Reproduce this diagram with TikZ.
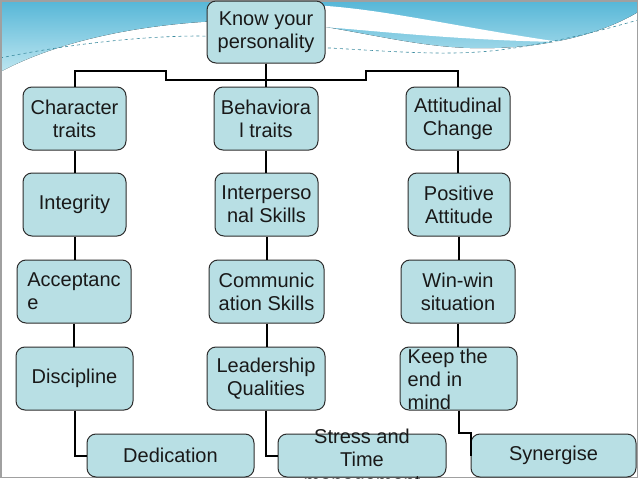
\documentclass[tikz,border=0pt]{standalone}
\usepackage{fontspec}
\setmainfont{Liberation Sans}
\usepackage{tikz}
\usetikzlibrary{positioning, calc}
\definecolor{CardFill}{RGB}{184,223,228}
\definecolor{CardLine}{RGB}{45,45,45}
\definecolor{WaveTop}{RGB}{85,182,215}
\definecolor{WaveLow}{RGB}{190,230,240}
\definecolor{WaveDash}{RGB}{60,140,160}
\definecolor{FrameGray}{RGB}{160,160,160}

\tikzset{
  card/.style={draw=CardLine, fill=CardFill, line width=1pt, rounded corners=9pt,
    inner sep=0pt, minimum height=63, align=center, text=black!90,
    font=\fontsize{20}{23}\selectfont},
  cardtext/.style={inner sep=0pt, text=black!90, font=\fontsize{20}{23}\selectfont},
  link/.style={black, line width=2pt},
}

\begin{document}
\begin{tikzpicture}[x=1pt,y=-1pt]
  \path[use as bounding box] (0,0) rectangle (638,479);
  \fill[white] (0,0) rectangle (638,479);
  % header wave
  \fill[top color=WaveTop, bottom color=WaveLow] (0,0) -- (638,0) -- (638,12)
    .. controls (600,35) and (540,50) .. (470,48)
    .. controls (400,46) and (330,22) .. (260,20)
    .. controls (150,20) and (60,40) .. (0,72) -- cycle;
  \fill[white] (310,5) .. controls (380,8) and (450,26) .. (560,42)
    .. controls (450,40) and (370,30) .. (310,26) -- cycle;
  \draw[WaveDash, dashed, line width=0.6pt] (0,58) .. controls (80,42) and (150,36) .. (200,36)
    .. controls (260,38) and (300,48) .. (330,48)
    .. controls (400,52) and (450,56) .. (500,50)
    .. controls (560,42) and (610,28) .. (638,20);
  \draw[FrameGray, line width=1.5pt] (0.75,0.75) rectangle (637.25,477.5);

  % nodes
  \node[card, minimum width=118, minimum height=62] (root) at (266,32) {Know your\\personality};

  \node[card, minimum width=103] (chr) at (74.5,118.5) {Character\\traits};
  \node[card, minimum width=104] (beh) at (266,118.5) {Behaviora\\l traits};
  \node[card, minimum width=104] (att) at (458,118.5) {Attitudinal\\Change};

  \node[card, minimum width=103] (integ) at (74.5,204.5) {Integrity};
  \node[card, minimum width=103] (inter) at (266.5,204.5) {Interperso\\nal Skills};
  \node[card, minimum width=102] (posit) at (459,204.5) {Positive\\Attitude};

  \node[card, minimum width=114, align=left] (accep) at (74,291.5) {Acceptanc\\e};
  \node[card, minimum width=115] (comm) at (266.5,291.5) {Communic\\ation Skills};
  \node[card, minimum width=114] (win) at (458,291.5) {Win-win\\situation};

  \node[card, minimum width=117] (disc) at (74.5,378.5) {Discipline};
  \node[card, minimum width=118] (lead) at (266,378.5) {Leadership\\Qualities};
  \node[card, minimum width=117] (keep) at (458.5,378.5) {};
  \node[cardtext, align=left, anchor=west] (keeptext) at ($(keep.west)+(8,1)$) {Keep the\\end in\\mind};

  \node[card, minimum width=167, minimum height=43] (dedi) at (170.5,455.5) {Dedication};
  \node[card, minimum width=168, minimum height=43] (stress) at (362,455.5) {};
  \node[cardtext, align=center] (stresstext) at ($(stress)+(0,6)$) {Stress and\\Time\\management};
  \node[card, minimum width=165, minimum height=43] (syn) at (553.5,455.5) {Synergise};

  % links
  \draw[link] (root.south) -- (beh.north);
  \draw[link] (root.south) -- ++(0,16) -| ++(-100,-9) -| (chr.north);
  \draw[link] (root.south) -- ++(0,16) -| ++(100,-9) -| (att.north);
  \foreach \a/\b in {chr/integ, integ/accep, accep/disc, beh/inter, inter/comm, comm/lead, att/posit, posit/win, win/keep}{
    \draw[link] (\a.south) -- (\a.south |- \b.north);
  }
  \draw[link] (disc.south) |- (dedi.west);
  \draw[link] (lead.south) |- (stress.west);
  \draw[link] (keep.south) -- ++(0,22) -- ++(12,0) |- (syn.west);
\end{tikzpicture}
\end{document}
